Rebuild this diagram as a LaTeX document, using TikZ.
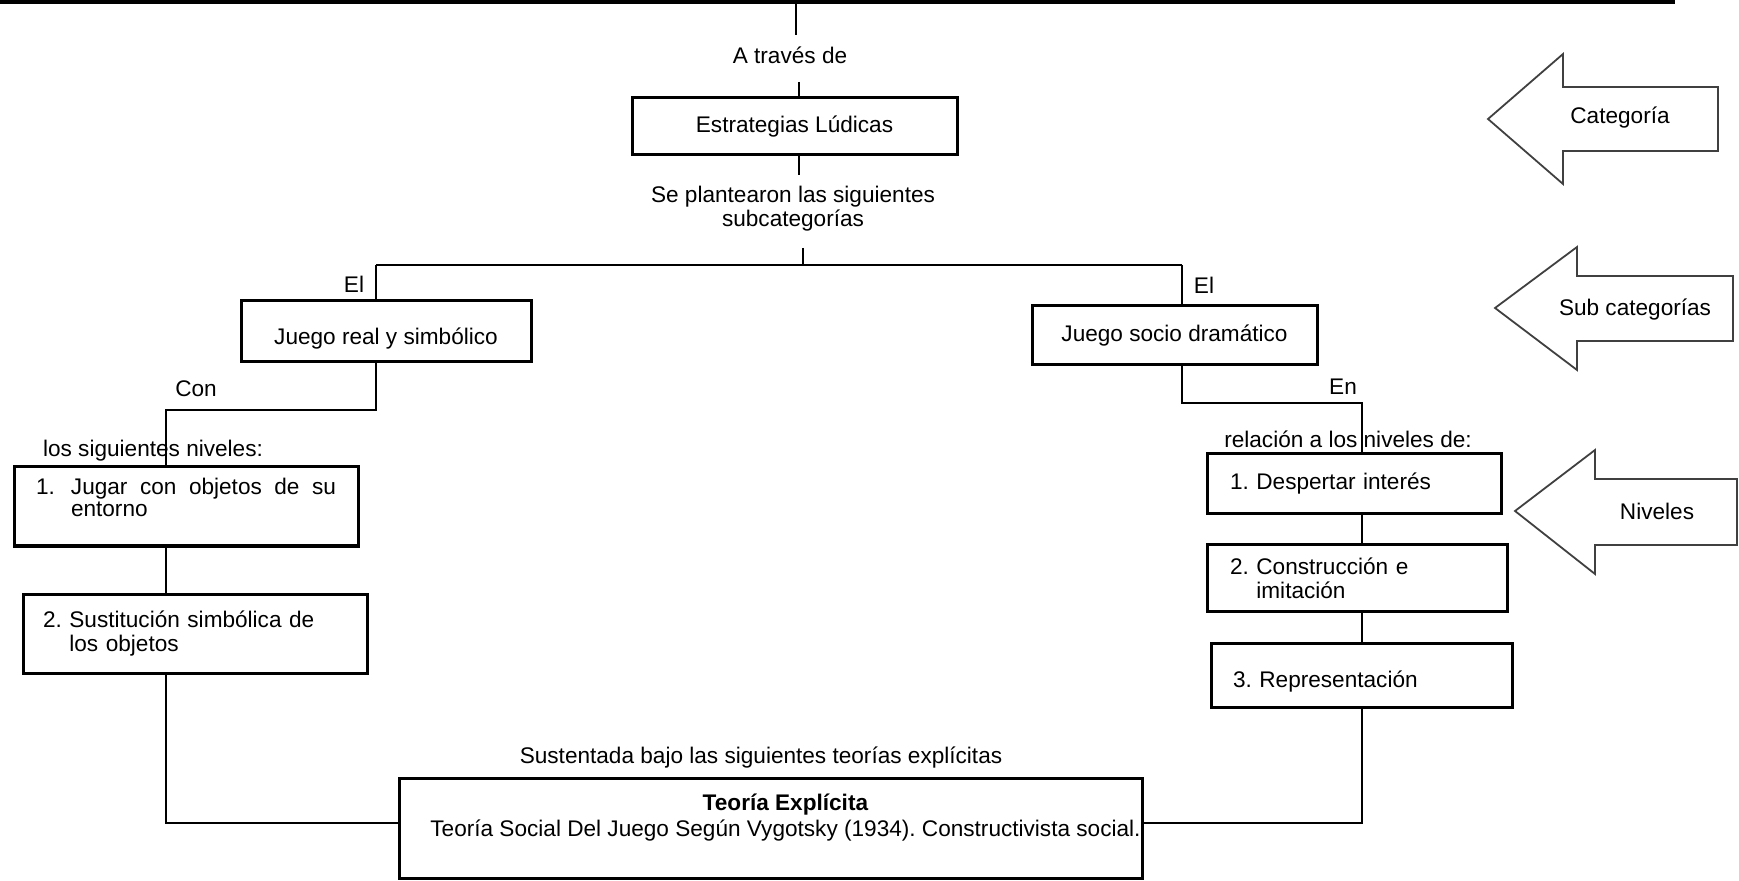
\documentclass[tikz,border=0pt]{standalone}
\usepackage{fontspec}
\setmainfont{Liberation Sans}
\begin{document}
\frenchspacing
\begin{tikzpicture}[x=0.5pt,y=-0.5pt,
  every node/.style={font=\fontsize{11.3}{12}\selectfont\frenchspacing, inner sep=0pt},
  box/.style={draw, line width=1.5pt},
  conn/.style={line width=0.75pt},
  lbl/.style={text height=8pt, text depth=2.4pt},
  low/.style={text height=15pt, text depth=2.4pt},
  bigarrow/.style={draw=black!75, line width=0.9pt, line join=miter}
]
\useasboundingbox (0,0) rectangle (1739,881);

% top bar and first connector
\coordinate (barL) at (0,1.8);
\coordinate (barR) at (1675,1.8);
\draw[line width=1.8pt] (barL) -- (barR);
\coordinate (topA) at (796,0);
\coordinate (topB) at (796,35);
\draw[conn] (topA) -- (topB);
\node[lbl] (traves) at (790,58) {A través de};
\coordinate (estIn) at (799,82);

% category
\node[box, minimum width=162.5pt, minimum height=28.5pt] (est) at (794.5,126.5) {Estrategias Lúdicas};
\draw[conn] (estIn) -- (est.north -| estIn);
\coordinate (estOut) at (799,175);
\draw[conn] (est.south -| estOut) -- (estOut);
\node[align=center] (plant) at (793,209) {Se plantearon las siguientes\\subcategorías};
\coordinate (splitTop) at (803,248);
\coordinate (splitMid) at (803,265);
\draw[conn] (splitTop) -- (splitMid);
\coordinate (splitL) at (376,265);
\coordinate (splitR) at (1182,265);
\draw[conn] (splitL) -- (splitR);

% left branch
\node[box, low, minimum width=145pt, minimum height=30.5pt] (jr) at (386,331.5) {Juego real y simbólico};
\node[lbl] (el1) at (354,287) {El};
\draw[conn] (splitL) -- (splitL |- jr.north);
\coordinate (jrBend) at (376,410);
\coordinate (conBend) at (166,410);
\node[lbl] (con) at (196,391) {Con};
\node[lbl] (los) at (153,451) {los siguientes niveles:};

\node[box, minimum width=172pt, minimum height=39.5pt, text width=150pt, inner xsep=11pt, align=left,
      font=\fontsize{11.3}{11}\selectfont] (n1) at (186,506.5)
  {\makebox[17.5pt][l]{1.}\hbox to 132.5pt{Jugar\hfill con\hfill objetos\hfill de\hfill su}\\\hspace*{17.5pt}entorno\\[-1.6pt]\mbox{}};
\node[box, minimum width=172pt, minimum height=39.5pt, text width=152pt, inner xsep=10pt, align=left] (n2) at (195,633.5)
  {2. Sustitución simbólica de\\\hphantom{2. }los objetos};

\draw[conn] (jr.south -| jrBend) -- (jrBend) -- (conBend) -- (conBend |- n1.north);
\coordinate (botL) at (166,823);
\draw[conn] (n1.south -| botL) -- (botL |- n2.north);

% theory box
\node[lbl] (sust) at (761,758) {Sustentada bajo las siguientes teorías explícitas};
\node[box, minimum width=371.5pt, minimum height=50pt, align=center, font=\fontsize{11.3}{13}\selectfont] (teo) at (770.5,828)
  {\hspace*{15pt}\textbf{Teoría Explícita}\\\hspace*{15pt}Teoría Social Del Juego Según Vygotsky (1934). Constructivista social.\\\mbox{}};
\draw[conn] (n2.south -| botL) -- (botL) -- (teo.west |- botL);

% right branch
\node[box, minimum width=142.5pt, minimum height=29.5pt] (js) at (1174.5,335.5) {Juego socio dramático};
\node[lbl] (el2) at (1204,288) {El};
\draw[conn] (splitR) -- (splitR |- js.north);
\coordinate (jsBend) at (1182,403);
\coordinate (enBend) at (1362,403);
\node[lbl] (en) at (1343,389) {En};
\node[lbl] (rel) at (1348,442) {relación a los niveles de:};

\node[box, minimum width=147pt, minimum height=30pt, text width=124pt, inner xsep=11.5pt, align=left] (d1) at (1354,484)
  {1. Despertar interés};
\node[box, minimum width=150pt, minimum height=33pt, text width=127pt, inner xsep=11.5pt, align=left] (d2) at (1357,578)
  {2. Construcción e\\\hphantom{2. }imitación};
\node[box, low, minimum width=150.5pt, minimum height=32pt, text width=128.5pt, inner xsep=11pt, align=left] (d3) at (1361.5,675)
  {3. Representación};

\draw[conn] (js.south -| jsBend) -- (jsBend) -- (enBend) -- (enBend |- d1.north);
\draw[conn] (d1.south -| enBend) -- (enBend |- d2.north);
\draw[conn] (d2.south -| enBend) -- (enBend |- d3.north);
\coordinate (botR) at (1362,823);
\draw[conn] (d3.south -| botR) -- (botR) -- (teo.east |- botR);

% side arrows
\draw[bigarrow] (1488,119) -- (1563,54) -- (1563,87) -- (1718,87) -- (1718,151) -- (1563,151) -- (1563,184) -- cycle;
\node (cat) at (1620,118) {Categoría};
\draw[bigarrow] (1495,308) -- (1577,247) -- (1577,276) -- (1733,276) -- (1733,341) -- (1577,341) -- (1577,370) -- cycle;
\node (subcat) at (1635,310) {Sub categorías};
\draw[bigarrow] (1515,511) -- (1595,450) -- (1595,479) -- (1737,479) -- (1737,545) -- (1595,545) -- (1595,574) -- cycle;
\node (niv) at (1657,511) {Niveles};
\end{tikzpicture}
\end{document}
